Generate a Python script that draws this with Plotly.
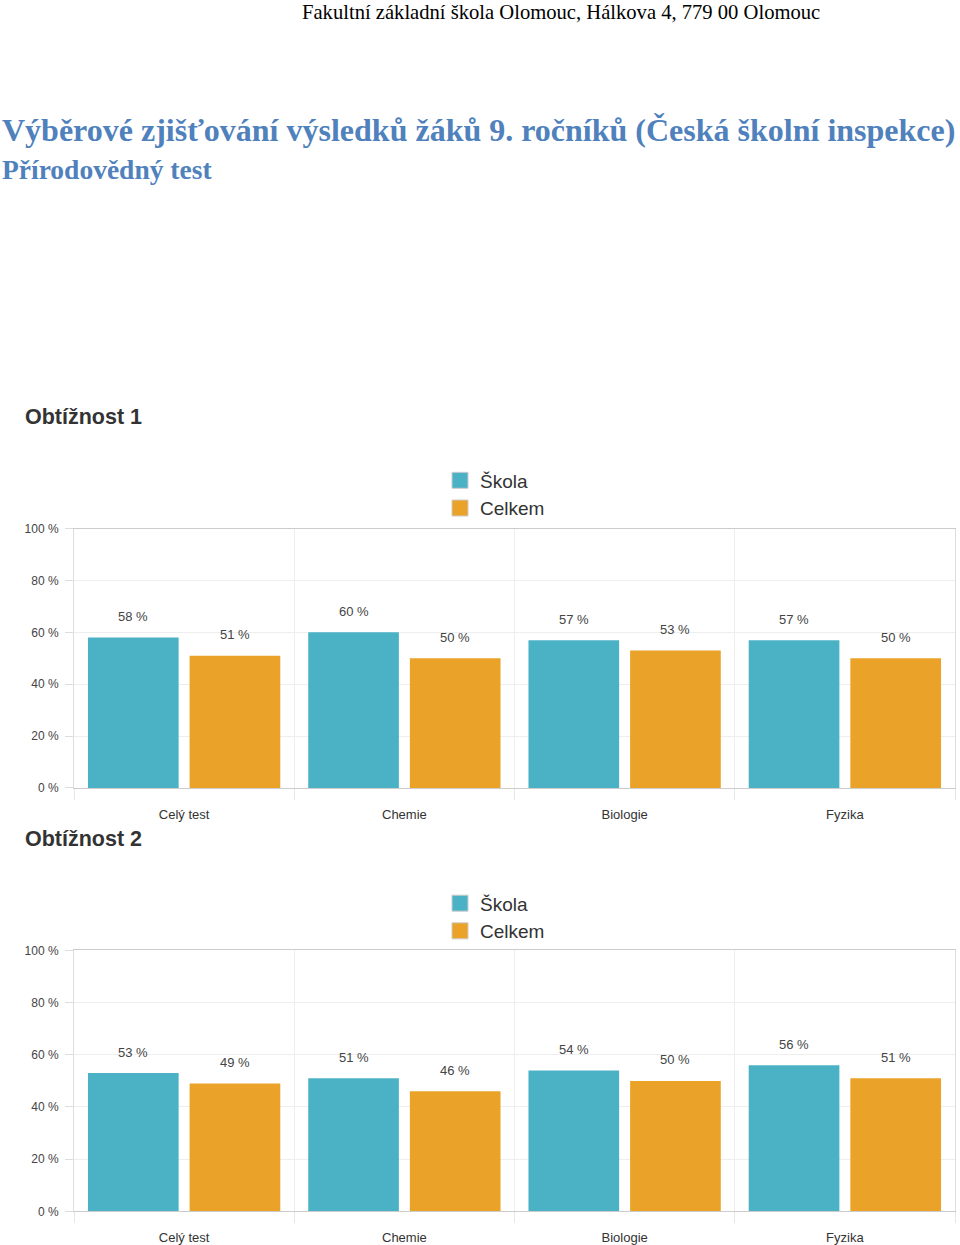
import plotly.graph_objects as go

W, H = 960, 1245

categories = ["Celý test", "Chemie", "Biologie", "Fyzika"]
series_names = ["Škola", "Celkem"]
skola_1 = [58, 60, 57, 57]
celkem_1 = [51, 50, 53, 50]
skola_2 = [53, 51, 54, 56]
celkem_2 = [49, 46, 50, 51]
y_ticks = [0, 20, 40, 60, 80, 100]
y_tick_labels = ["0 %", "20 %", "40 %", "60 %", "80 %", "100 %"]

header_text = "Fakultní základní škola Olomouc, Hálkova 4, 779 00 Olomouc"
main_title = "Výběrové zjišťování výsledků žáků 9. ročníků (Česká školní inspekce)"
sub_title = "Přírodovědný test"
chart_titles = ["Obtížnost 1", "Obtížnost 2"]

COL = ["#4BB2C5", "#EAA228"]
BARGAP = 0.077
BARGROUPGAP = 0.108


def py(p):
    return 1 - p / H


def px(p):
    return p / W


PLOT_L, PLOT_R = 74, 955

fig = go.Figure()

charts = [
    dict(vals=[skola_1, celkem_1], xa="x", ya="y", leg="legend"),
    dict(vals=[skola_2, celkem_2], xa="x2", ya="y2", leg="legend2"),
]

cat_w = (PLOT_R - PLOT_L) / len(categories)
bar_off = cat_w * (1 - BARGAP) / 4

annotations = []
for ci, ch in enumerate(charts):
    for si, vals in enumerate(ch["vals"]):
        fig.add_trace(go.Bar(
            x=categories, y=vals, name=series_names[si],
            xaxis=ch["xa"], yaxis=ch["ya"],
            marker=dict(color=COL[si], line=dict(width=0)),
            showlegend=False,
            hoverinfo="skip",
        ))
        for c, v in zip(categories, vals):
            annotations.append(dict(
                text=f"{v} %", x=c, y=v, xref=ch["xa"], yref=ch["ya"],
                xshift=(-bar_off if si == 0 else bar_off), yshift=21,
                xanchor="center", yanchor="middle", showarrow=False,
                font=dict(family="Liberation Sans, Arial", size=13, color="#444"),
            ))
    for si in range(2):
        fig.add_trace(go.Scatter(
            x=[None], y=[None], mode="markers", name=series_names[si],
            xaxis=ch["xa"], yaxis=ch["ya"], legend=ch["leg"],
            marker=dict(symbol="square", size=17, color=COL[si],
                        line=dict(color="#cccccc", width=1)),
        ))

axis_common_x = dict(
    type="category", tickson="boundaries", showgrid=True, gridcolor="#eeeeee",
    ticks="outside", ticklen=11, tickcolor="#e6e6e6", showline=True,
    linecolor="#cccccc", mirror=True, ticklabelstandoff=14,
    tickfont=dict(family="Liberation Sans, Arial", size=13, color="#333"),
    fixedrange=True,
)
axis_common_y = dict(
    range=[0, 100], tickvals=y_ticks, ticktext=y_tick_labels,
    showgrid=True, gridcolor="#eeeeee", zeroline=False,
    ticks="outside", ticklen=8, tickcolor="#dddddd", showline=True,
    linecolor="#dddddd", mirror=True, ticklabelstandoff=4,
    tickfont=dict(family="Liberation Sans, Arial", size=12, color="#444"),
    fixedrange=True,
)

x_dom = [px(PLOT_L), px(PLOT_R)]

legend_common = dict(
    orientation="v", xanchor="left", yanchor="top", x=px(440),
    font=dict(family="Liberation Sans, Arial", size=19, color="#333"),
    bgcolor="rgba(0,0,0,0)", tracegroupgap=0, itemclick=False, itemdoubleclick=False,
)

annotations += [
    dict(text=header_text, x=px(300), y=py(5), xref="paper", yref="paper",
         xanchor="left", yanchor="middle", showarrow=False,
         font=dict(family="Liberation Serif, Times New Roman", size=20.6, color="#000")),
    dict(text="<b>" + main_title + "</b>", x=px(0), y=py(124), xref="paper", yref="paper",
         xanchor="left", yanchor="middle", showarrow=False,
         font=dict(family="Liberation Serif, serif", size=32, color="#4F81BD")),
    dict(text="<b>" + sub_title + "</b>", x=px(0), y=py(164), xref="paper", yref="paper",
         xanchor="left", yanchor="middle", showarrow=False,
         font=dict(family="Liberation Serif, serif", size=27.5, color="#4F81BD")),
    dict(text="<b>" + chart_titles[0] + "</b>", x=px(23), y=py(415), xref="paper", yref="paper",
         xanchor="left", yanchor="middle", showarrow=False,
         font=dict(family="Liberation Sans, Arial", size=21.5, color="#333")),
    dict(text="<b>" + chart_titles[1] + "</b>", x=px(23), y=py(842), xref="paper", yref="paper",
         xanchor="left", yanchor="middle", showarrow=False,
         font=dict(family="Liberation Sans, Arial", size=21.5, color="#333")),
]

fig.update_layout(
    width=W, height=H, margin=dict(l=0, r=0, t=0, b=0, pad=0),
    paper_bgcolor="white", plot_bgcolor="white",
    barmode="group", bargap=BARGAP, bargroupgap=BARGROUPGAP,
    xaxis=dict(domain=x_dom, anchor="y", **axis_common_x),
    yaxis=dict(domain=[py(790.5), py(528)], anchor="x", **axis_common_y),
    xaxis2=dict(domain=x_dom, anchor="y2", **axis_common_x),
    yaxis2=dict(domain=[py(1219), py(955)], anchor="x2", **axis_common_y),
    legend=dict(y=py(460), **legend_common),
    legend2=dict(y=py(888), **legend_common),
    annotations=annotations,
    font=dict(family="Liberation Sans, Arial"),
)

fig.write_html(
    "out.html",
    config={"displayModeBar": False, "staticPlot": True},
    post_script="document.body.style.margin='0';document.body.style.overflow='hidden';",
)
